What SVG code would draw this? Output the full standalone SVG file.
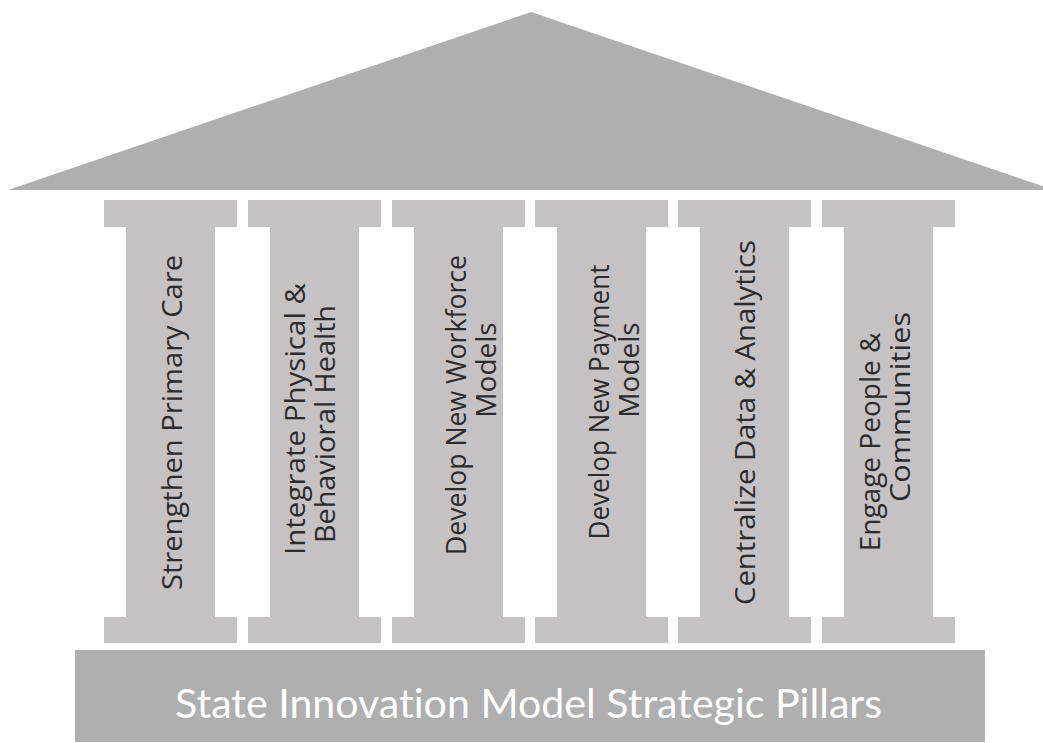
<svg xmlns="http://www.w3.org/2000/svg" width="1043" height="743" viewBox="0 0 1043 743">
<style>
.roof{fill:#afafaf}
.base{fill:#afafaf}
.pil{fill:#c4c2c3}
.pt{font-family:"Open Sans","Liberation Sans",sans-serif;font-size:28px;fill:#2b2b2b;text-anchor:middle}
.bt{font-family:"Lato","Liberation Sans",sans-serif;font-size:41px;fill:#ffffff;text-anchor:middle;font-variant-ligatures:none}
</style>
<defs>
<path id="pillar" class="pil" d="M0,0H133V27H111V417H133V443H0V417H22V27H0Z"/>
</defs>
<rect width="1043" height="743" fill="#ffffff"/>
<g id="roof"><polygon class="roof" points="8,190 531,12 1054,190"/></g>
<g id="pillar1"><use href="#pillar" x="104" y="200"/>
<text class="pt" transform="translate(182,422.5) rotate(-90)" textLength="335" lengthAdjust="spacingAndGlyphs">Strengthen Primary Care</text></g>
<g id="pillar2"><use href="#pillar" x="248" y="200"/>
<text class="pt" transform="translate(305,419) rotate(-90)" textLength="272" lengthAdjust="spacingAndGlyphs">Integrate Physical &amp;</text>
<text class="pt" transform="translate(335,424) rotate(-90)" textLength="238" lengthAdjust="spacingAndGlyphs">Behavioral Health</text></g>
<g id="pillar3"><use href="#pillar" x="392" y="200"/>
<text class="pt" transform="translate(466,405) rotate(-90)" textLength="300" lengthAdjust="spacingAndGlyphs">Develop New Workforce</text>
<text class="pt" transform="translate(496,370) rotate(-90)">Models</text></g>
<g id="pillar4"><use href="#pillar" x="535" y="200"/>
<text class="pt" transform="translate(609,402) rotate(-90)" textLength="275" lengthAdjust="spacingAndGlyphs">Develop New Payment</text>
<text class="pt" transform="translate(639,370) rotate(-90)">Models</text></g>
<g id="pillar5"><use href="#pillar" x="678" y="200"/>
<text class="pt" transform="translate(755,422.5) rotate(-90)" textLength="365" lengthAdjust="spacingAndGlyphs">Centralize Data &amp; Analytics</text></g>
<g id="pillar6"><use href="#pillar" x="822" y="200"/>
<text class="pt" transform="translate(880,442) rotate(-90)">Engage People &amp;</text>
<text class="pt" transform="translate(910,407) rotate(-90)" textLength="190" lengthAdjust="spacingAndGlyphs">Communities</text></g>
<g id="base"><rect class="base" x="75" y="650" width="910" height="92"/>
<text class="bt" x="528.5" y="718" textLength="707" lengthAdjust="spacingAndGlyphs">State Innovation Model Strategic Pillars</text></g>
<g id="connectors"/>
</svg>
